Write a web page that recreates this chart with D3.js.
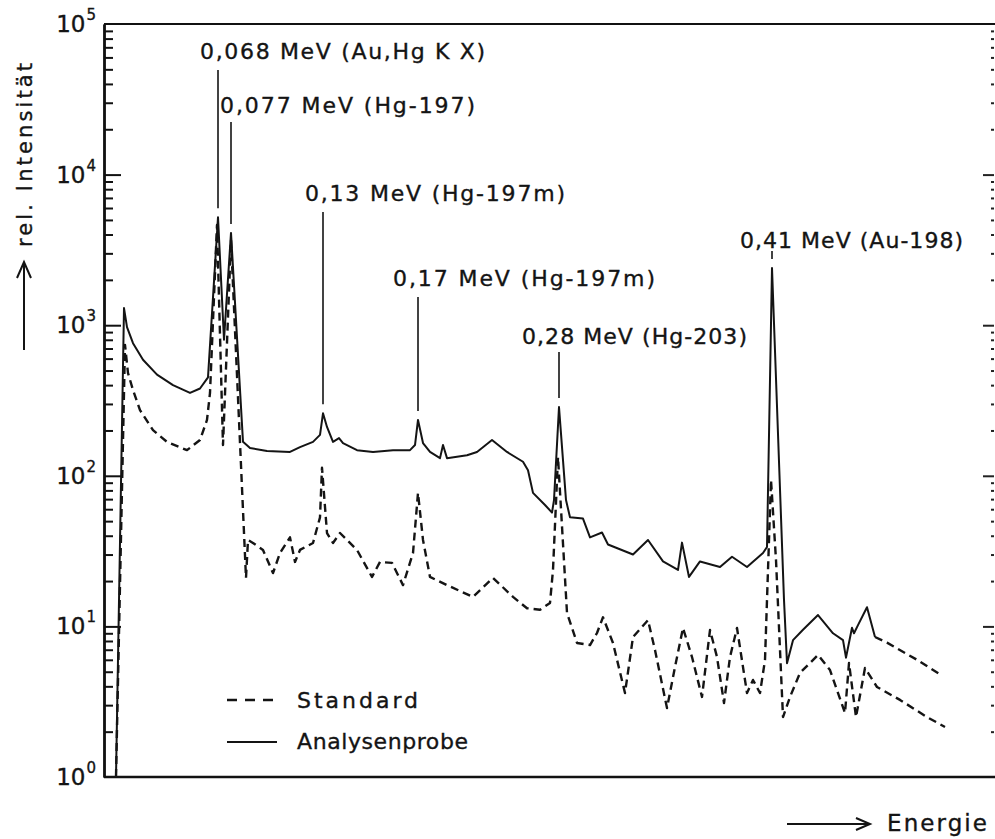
<!DOCTYPE html>
<html>
<head>
<meta charset="utf-8">
<script src="https://cdn.jsdelivr.net/npm/d3@7"></script>
<style>
  html, body { margin: 0; padding: 0; background: #fff; }
  svg { display: block; }
  text { font-family: "DejaVu Sans", sans-serif; fill: #141414; stroke: #141414; stroke-width: 0.35; }
</style>
</head>
<body>
<svg id="chart" width="995" height="839"></svg>
<script>
// Gamma spectrum of the standard and of the sample (channel number vs. relative intensity)
const standardChannels = [12,21,24,29,36,49,63,83,96,103,106,113,119,127,142,144,149,159,169,176,186,191,196,209,216,218,223,229,236,253,268,276,288,299,309,314,319,326,343,369,389,409,423,436,446,449,454,463,473,486,493,499,509,521,529,544,551,563,571,579,588,598,606,613,620,626,633,643,649,656,661,667,672,679,686,696,714,726,741,745,752,761,773,796,823,841];
const standardValues = [1,740,481,371,273,201,168,148,173,235,355,4630,160,3680,21,37.5,35.8,32.2,22.6,30.7,39,26.8,32.2,35.8,53,113,41.7,35.8,41.7,32.2,21.3,26.8,26.4,18.8,30.7,77,37.5,21.3,18.8,15.7,21,15.7,13.2,12.9,14.3,23.7,133,12.3,7.76,7.52,9.04,11.5,7.76,3.61,8.5,11.0,6.97,2.87,5.38,9.76,6.26,3.40,9.46,6.26,3.10,6.26,9.76,3.61,4.41,3.61,5.98,94,27.6,2.50,3.40,4.91,6.46,5.13,2.66,5.71,2.50,5.29,3.96,3.25,2.50,2.15];

const probeChannels = [12,20,23,29,39,53,69,86,96,104,114,120,127,139,146,163,186,196,209,216,219,223,229,235,239,253,269,289,306,311,314,319,326,336,339,343,363,373,388,403,419,424,429,441,448,450,455,462,466,479,486,498,504,529,544,559,574,578,585,596,616,628,643,659,663,668,680,683,689,699,714,729,739,742,748,750,754,763,771];
const probeValues = [1,1300,970,760,590,470,400,355,380,450,5200,800,4100,168,153,146,144,155,168,187,260,211,168,178,165,148,144,148,148,160,235,165,144,131,160,131,137,144,173,144,124,109,77,64,57,69,286,69,53,52,39,42,35,30,37.5,27,23.7,36,21.3,27,24.8,29,24.8,30.7,33.7,2400,15,5.7,8.1,9.5,11.9,9.0,8.1,6.2,9.8,9.0,10.2,13.4,8.5];

// extrapolated end of the sample spectrum (drawn dashed)
const probeTailChannels = [771,783,813,836];
const probeTailValues = [8.5,7.8,6.0,4.8];

const decadeTicks = [1,10,100,1000,10000,100000];
const decadeExponents = ["0","1","2","3","4","5"];

const peakLabels = ["0,068 MeV (Au,Hg K X)", "0,077 MeV (Hg-197)", "0,13 MeV (Hg-197m)", "0,17 MeV (Hg-197m)", "0,28 MeV (Hg-203)", "0,41 MeV (Au-198)"];
const peakChannels = [114,127,219,314,455,668];

const seriesNames = ["Standard", "Analysenprobe"];
const yAxisTitle = "rel. Intensität";
const xAxisTitle = "Energie";

// ---- layout ----
const W = 995, H = 839;
const plot = { left: 104, right: 995, top: 24, bottom: 777 };
const svg = d3.select("#chart");

const x = d3.scaleLinear().domain([0, 891]).range([plot.left, plot.right]);
const y = d3.scaleLog().domain([1, 1e5]).range([plot.bottom, plot.top]);

const minorTicks = [];
decadeTicks.slice(0, -1).forEach(d => { for (let k = 2; k <= 9; k++) minorTicks.push(d * k); });

// frame: top line and bottom line
svg.append("line").attr("x1", plot.left).attr("x2", W).attr("y1", plot.top).attr("y2", plot.top)
  .attr("stroke", "#111").attr("stroke-width", 2);
svg.append("line").attr("x1", plot.left).attr("x2", W).attr("y1", plot.bottom).attr("y2", plot.bottom)
  .attr("stroke", "#111").attr("stroke-width", 2.4);

// left axis, ticks pointing into the plot
const leftMajor = svg.append("g").attr("transform", `translate(${plot.left},0)`)
  .call(d3.axisRight(y).tickValues(decadeTicks.slice(1, -1)).tickSize(17).tickSizeOuter(0).tickFormat(""));
const leftMinor = svg.append("g").attr("transform", `translate(${plot.left},0)`)
  .call(d3.axisRight(y).tickValues(minorTicks).tickSize(9).tickSizeOuter(0).tickFormat(""));
[leftMajor, leftMinor].forEach(g => {
  g.select(".domain").attr("stroke", "#111").attr("stroke-width", 2.4);
  g.selectAll(".tick line").attr("stroke", "#111").attr("stroke-width", 2);
});

// right axis (only ticks visible at the edge)
const rightMajor = svg.append("g").attr("transform", `translate(${W - 1},0)`)
  .call(d3.axisLeft(y).tickValues(decadeTicks.slice(1, -1)).tickSize(11).tickSizeOuter(0).tickFormat(""));
const rightMinor = svg.append("g").attr("transform", `translate(${W - 1},0)`)
  .call(d3.axisLeft(y).tickValues(minorTicks).tickSize(3).tickSizeOuter(0).tickFormat(""));
[rightMajor, rightMinor].forEach(g => {
  g.select(".domain").remove();
  g.selectAll(".tick line").attr("stroke", "#222").attr("stroke-width", 2);
});

// decade labels 10^n
const decLabels = svg.append("g");
decadeTicks.forEach((d, i) => {
  const t = decLabels.append("text")
    .attr("x", 96).attr("y", y(d) + 8)
    .attr("text-anchor", "end").attr("font-size", 23);
  t.append("tspan").text("10");
  t.append("tspan").attr("font-size", 15).attr("dy", -12).attr("dx", 1).text(decadeExponents[i]);
});

// spectra
const line = d3.line().x(d => x(d[0])).y(d => y(d[1]));
const standardData = standardChannels.map((c, i) => [c, standardValues[i]]);
const probeData = probeChannels.map((c, i) => [c, probeValues[i]]);
const probeTail = probeTailChannels.map((c, i) => [c, probeTailValues[i]]);

svg.append("path").datum(standardData).attr("d", line)
  .attr("fill", "none").attr("stroke", "#141414").attr("stroke-width", 2.4)
  .attr("stroke-dasharray", "8,5").attr("stroke-linejoin", "round");
svg.append("path").datum(probeData).attr("d", line)
  .attr("fill", "none").attr("stroke", "#141414").attr("stroke-width", 2)
  .attr("stroke-linejoin", "round");
svg.append("path").datum(probeTail).attr("d", line)
  .attr("fill", "none").attr("stroke", "#141414").attr("stroke-width", 2.4)
  .attr("stroke-dasharray", "8,5");

// peak annotations
const labelLayout = [
  { x: 200, base: 59,  len: 285, lineTop: 70 },
  { x: 220, base: 113, len: 255, lineTop: 122 },
  { x: 305, base: 201, len: 260, lineTop: 212 },
  { x: 393, base: 286, len: 262, lineTop: 297 },
  { x: 522, base: 344, len: 225, lineTop: 352 },
  { x: 740, base: 248, len: 223, lineTop: 251 }
];
peakLabels.forEach((lab, i) => {
  const L = labelLayout[i];
  const ch = peakChannels[i];
  const v = probeValues[probeChannels.indexOf(ch)];
  svg.append("line")
    .attr("x1", x(ch)).attr("x2", x(ch))
    .attr("y1", L.lineTop).attr("y2", y(v) - 9)
    .attr("stroke", "#141414").attr("stroke-width", 1.6);
  svg.append("text").attr("x", L.x).attr("y", L.base)
    .attr("font-size", 22).attr("textLength", L.len).attr("lengthAdjust", "spacing")
    .text(lab);
});

// legend
const legend = svg.append("g");
legend.append("line").attr("x1", 227).attr("x2", 273).attr("y1", 700).attr("y2", 700)
  .attr("stroke", "#141414").attr("stroke-width", 2.4).attr("stroke-dasharray", "10,8");
legend.append("line").attr("x1", 227).attr("x2", 277).attr("y1", 742).attr("y2", 742)
  .attr("stroke", "#141414").attr("stroke-width", 2);
legend.append("text").attr("x", 297).attr("y", 708).attr("font-size", 22)
  .attr("textLength", 121).attr("lengthAdjust", "spacing").text(seriesNames[0]);
legend.append("text").attr("x", 297).attr("y", 749).attr("font-size", 22)
  .attr("textLength", 171).attr("lengthAdjust", "spacing").text(seriesNames[1]);

// y axis title with arrow
svg.append("text").attr("transform", "translate(32,247) rotate(-90)")
  .attr("font-size", 21).attr("textLength", 184).attr("lengthAdjust", "spacing")
  .text(yAxisTitle);
svg.append("path").attr("d", "M24,350 L24,262 M17,278 L24,262 L31,278")
  .attr("fill", "none").attr("stroke", "#141414").attr("stroke-width", 2);

// x axis title with arrow
svg.append("path").attr("d", "M787,824 L870,824 M856,818 L870,824 L856,830")
  .attr("fill", "none").attr("stroke", "#141414").attr("stroke-width", 2);
svg.append("text").attr("x", 887).attr("y", 831).attr("font-size", 23)
  .attr("textLength", 100).attr("lengthAdjust", "spacing").text(xAxisTitle);
</script>
</body>
</html>
